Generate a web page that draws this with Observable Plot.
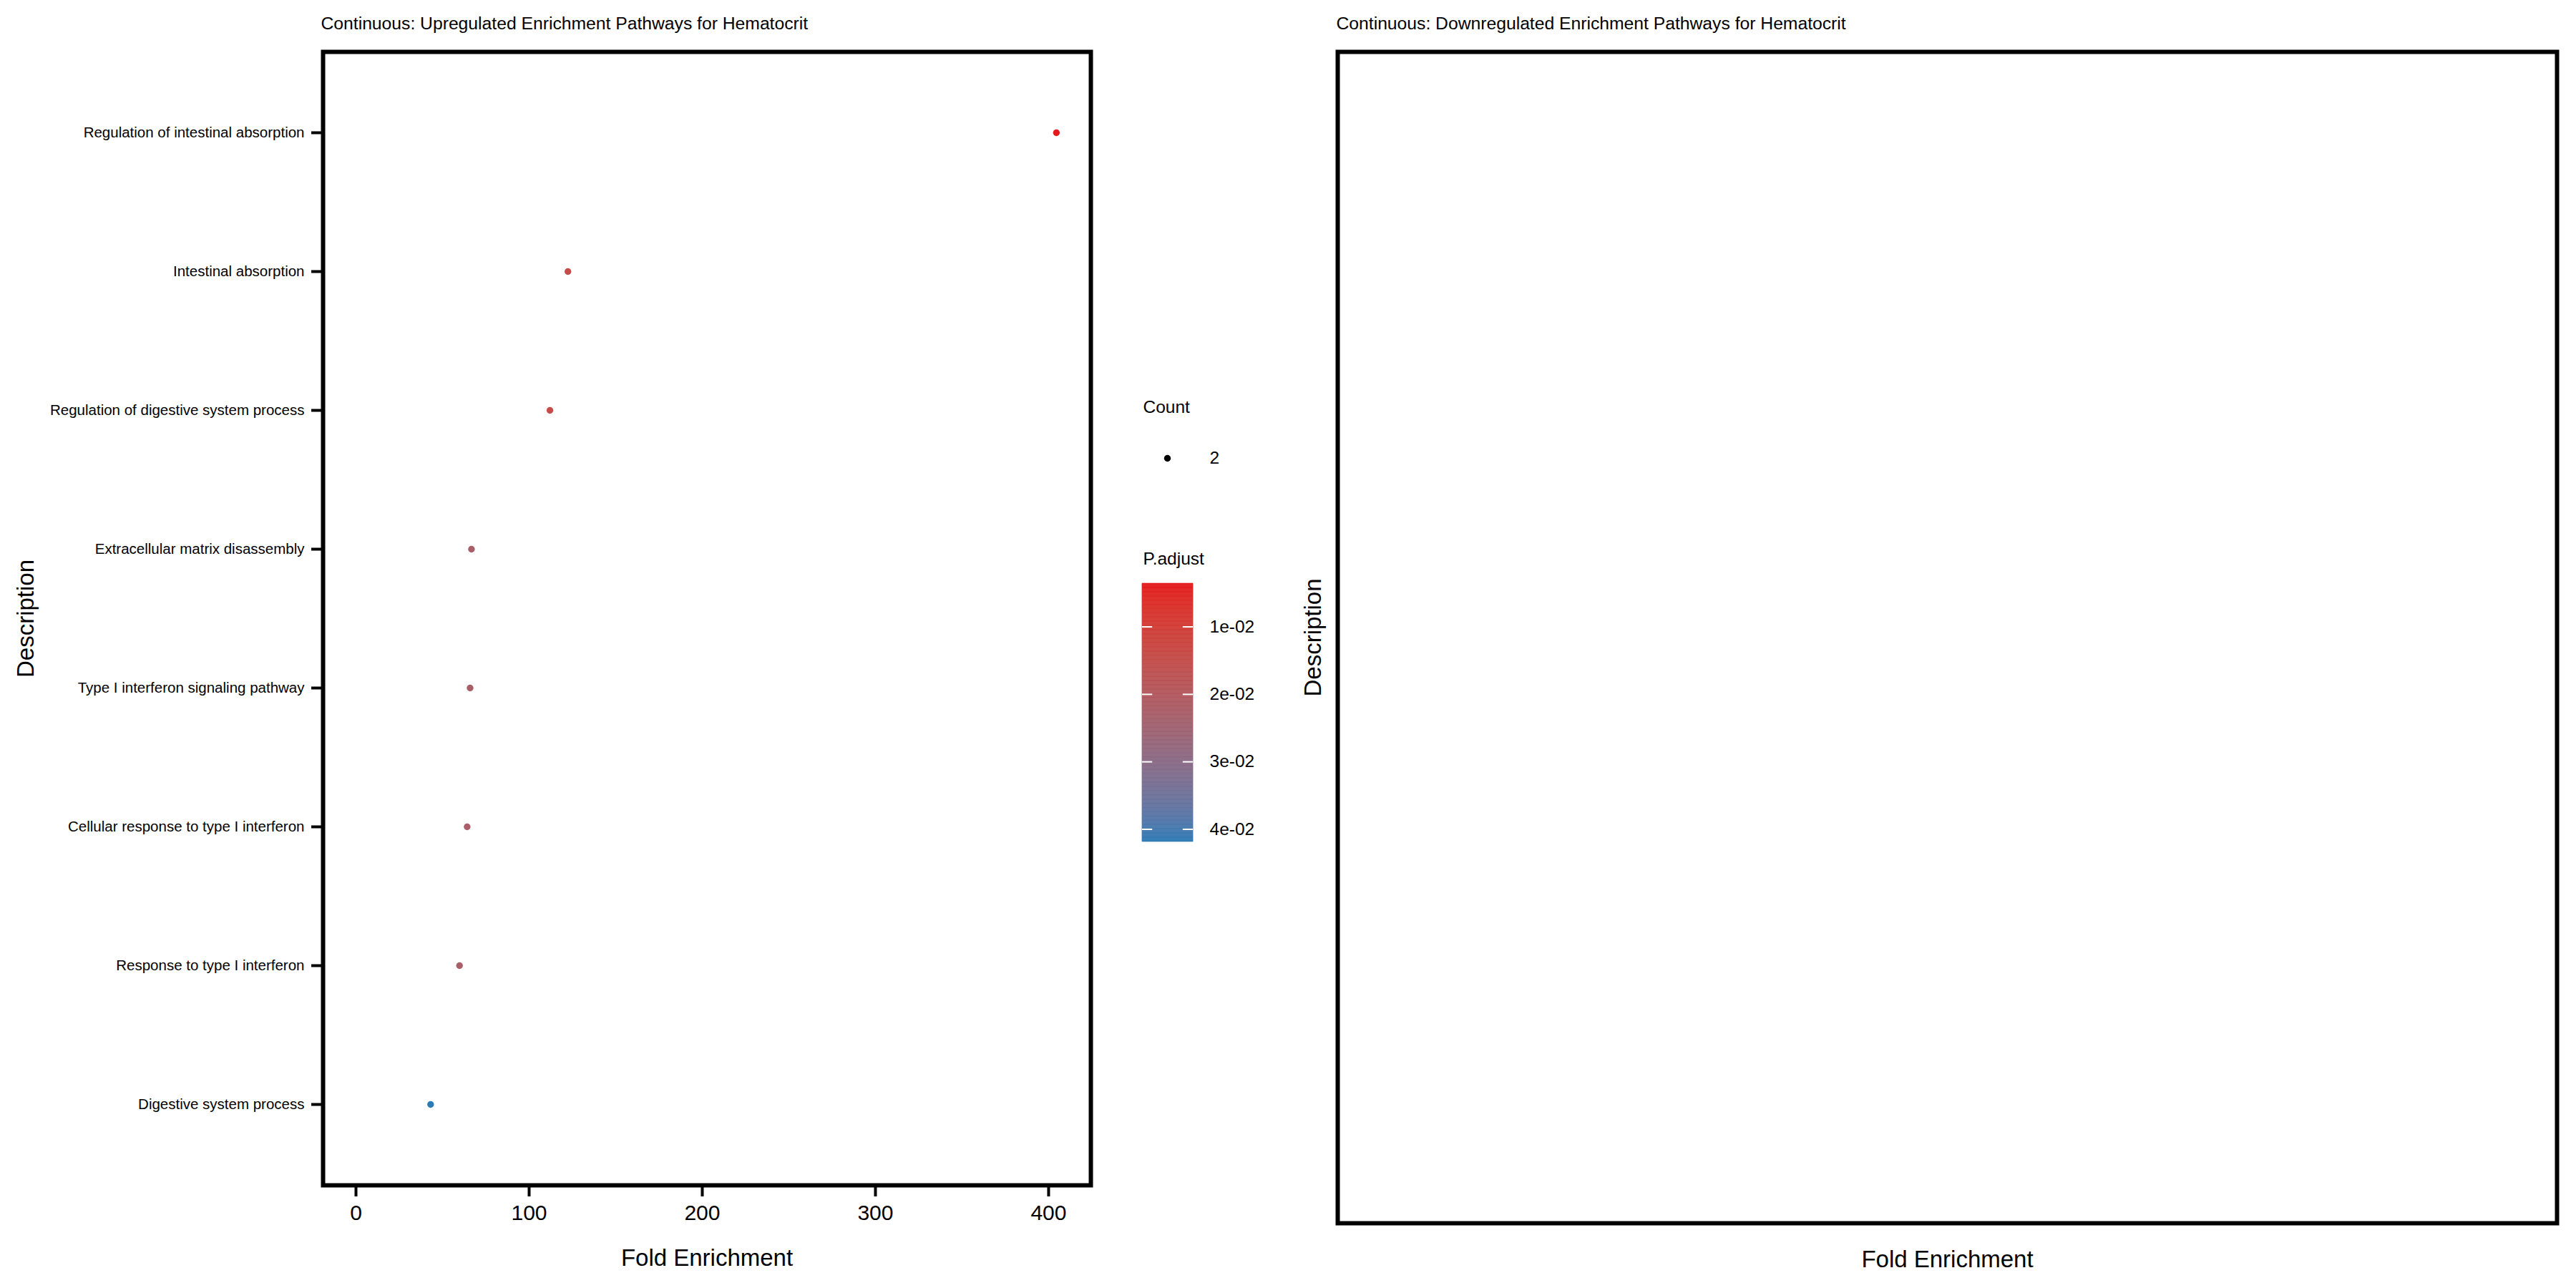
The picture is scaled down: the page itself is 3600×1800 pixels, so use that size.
<!DOCTYPE html>
<html><head><meta charset="utf-8">
<script src="https://cdn.jsdelivr.net/npm/d3@7"></script>
<script src="https://cdn.jsdelivr.net/npm/@observablehq/plot@0.6"></script>
<style>
html,body{margin:0;padding:0;background:#fff;}
#chart{position:relative;width:3600px;height:1800px;background:#fff;overflow:hidden;}
#chart > svg{position:absolute;max-width:none;}
</style></head><body><div id="chart"></div>
<script>
// ---- data ----
const descriptions = [
  "Regulation of intestinal absorption",
  "Intestinal absorption",
  "Regulation of digestive system process",
  "Extracellular matrix disassembly",
  "Type I interferon signaling pathway",
  "Cellular response to type I interferon",
  "Response to type I interferon",
  "Digestive system process"
];
const foldEnrichment = [404.5, 122.4, 112.0, 66.7, 65.9, 64.2, 59.8, 43.1];
const pAdjust = [0.00358, 0.0145, 0.0145, 0.0226, 0.0226, 0.0226, 0.0226, 0.04186];
const counts = [2, 2, 2, 2, 2, 2, 2, 2];
const xTicks = [0, 100, 200, 300, 400];
const pTicks = [0.01, 0.02, 0.03, 0.04];
const pTickLabels = ["1e-02", "2e-02", "3e-02", "4e-02"];
const countLegendValues = [2];
const titleUp = "Continuous: Upregulated Enrichment Pathways for Hematocrit";
const titleDown = "Continuous: Downregulated Enrichment Pathways for Hematocrit";
const xTitle = "Fold Enrichment";
const yTitle = "Description";

// ---- setup ----
const FONT = '"Liberation Sans", Arial, Helvetica, sans-serif';
const lowColor = "#E41A1C", highColor = "#2C7BB6";
const [pLo, pHi] = d3.extent(pAdjust);
const colorScale = {type: "linear", domain: [pLo, pHi], range: [lowColor, highColor], interpolate: d3.interpolateLab};
const rows = descriptions.map((d, i) => ({desc: d, fe: foldEnrichment[i], p: pAdjust[i], count: counts[i]}));
const baseStyle = (left, top, bg) => ({fontFamily: FONT, background: bg, color: "black", overflow: "visible",
  position: "absolute", left: left + "px", top: top + "px", maxWidth: "none"});

const chart = document.getElementById("chart");

// ---- left panel ----
const leftPlot = Plot.plot({
  width: 1560, height: 1800,
  marginLeft: 451, marginRight: 36, marginTop: 72, marginBottom: 144,
  style: baseStyle(0, 0, "white"),
  x: {domain: [-19, 424.4]},
  y: {type: "point", domain: descriptions, padding: 0.58},
  color: colorScale,
  marks: [
    Plot.axisX({ticks: xTicks, tickSize: 16, tickPadding: 11, fontSize: 30, strokeWidth: 4, label: null, tickFormat: d => String(d)}),
    Plot.axisY({tickSize: 16, tickPadding: 10, fontSize: 20.5, strokeWidth: 4, label: null}),
    Plot.frame({stroke: "black", strokeWidth: 6}),
    Plot.dot(rows, {x: "fe", y: "desc", fill: "p", r: 4.7}),
    Plot.text([titleUp], {text: d => d, frameAnchor: "top-left", textAnchor: "start", lineAnchor: "middle", dx: -3, dy: -39, fontSize: 24.7}),
    Plot.text([xTitle], {text: d => d, frameAnchor: "bottom", textAnchor: "middle", lineAnchor: "middle", dy: 102, fontSize: 33}),
    Plot.text([yTitle], {text: d => d, frameAnchor: "left", textAnchor: "middle", rotate: -90, lineAnchor: "middle", dx: -415, fontSize: 33})
  ]
});
chart.appendChild(leftPlot);

// ---- right panel (empty) ----
const rightPlot = Plot.plot({
  width: 2040, height: 1800,
  marginLeft: 309, marginRight: 27, marginTop: 72, marginBottom: 91,
  style: baseStyle(1560, 0, "white"),
  marks: [
    Plot.frame({stroke: "black", strokeWidth: 6}),
    Plot.text([titleDown], {text: d => d, frameAnchor: "top-left", textAnchor: "start", lineAnchor: "middle", dx: -2, dy: -39, fontSize: 24.7}),
    Plot.text([xTitle], {text: d => d, frameAnchor: "bottom", textAnchor: "middle", lineAnchor: "middle", dy: 51, fontSize: 33}),
    Plot.text([yTitle], {text: d => d, frameAnchor: "left", textAnchor: "middle", rotate: -90, lineAnchor: "middle", dx: -34, fontSize: 33})
  ]
});
chart.appendChild(rightPlot);

// ---- legends ----
const rampN = 300;
const ramp = d3.range(rampN).map(i => ({a: pLo + (pHi - pLo) * i / rampN, b: pLo + (pHi - pLo) * (i + 1) / rampN}));
const legendPlot = Plot.plot({
  width: 300, height: 680,
  marginLeft: 36, marginRight: 193, marginTop: 295, marginBottom: 24,
  style: baseStyle(1560, 520, "transparent"),
  x: {domain: [0, 1], axis: null},
  y: {domain: [pLo, pHi], reverse: true, axis: null},
  color: colorScale,
  marks: [
    Plot.rect(ramp, {x1: 0, x2: 1, y1: "a", y2: "b", fill: d => (d.a + d.b) / 2, stroke: d => (d.a + d.b) / 2, strokeWidth: 0.6}),
    Plot.ruleY(pTicks, {y: d => d, x1: 0, x2: 0.2, stroke: "white", strokeWidth: 2}),
    Plot.ruleY(pTicks, {y: d => d, x1: 0.8, x2: 1, stroke: "white", strokeWidth: 2}),
    Plot.text(pTicks, {y: d => d, x: 1, dx: 23, text: (d, i) => pTickLabels[i], textAnchor: "start", lineAnchor: "middle", fontSize: 24.5}),
    Plot.text(["P.adjust"], {text: d => d, frameAnchor: "top-left", textAnchor: "start", lineAnchor: "middle", dx: 1, dy: -34, fontSize: 24.5}),
    Plot.text(["Count"], {text: d => d, frameAnchor: "top-left", textAnchor: "start", lineAnchor: "middle", dx: 1, dy: -246, fontSize: 24.5}),
    Plot.dot(countLegendValues, {frameAnchor: "top-left", dx: 35, dy: -175, r: 4.7, fill: "black"}),
    Plot.text(countLegendValues, {text: d => String(d), frameAnchor: "top-left", textAnchor: "start", lineAnchor: "middle", dx: 94, dy: -175, fontSize: 24.5})
  ]
});
chart.appendChild(legendPlot);
</script>
</body></html>
